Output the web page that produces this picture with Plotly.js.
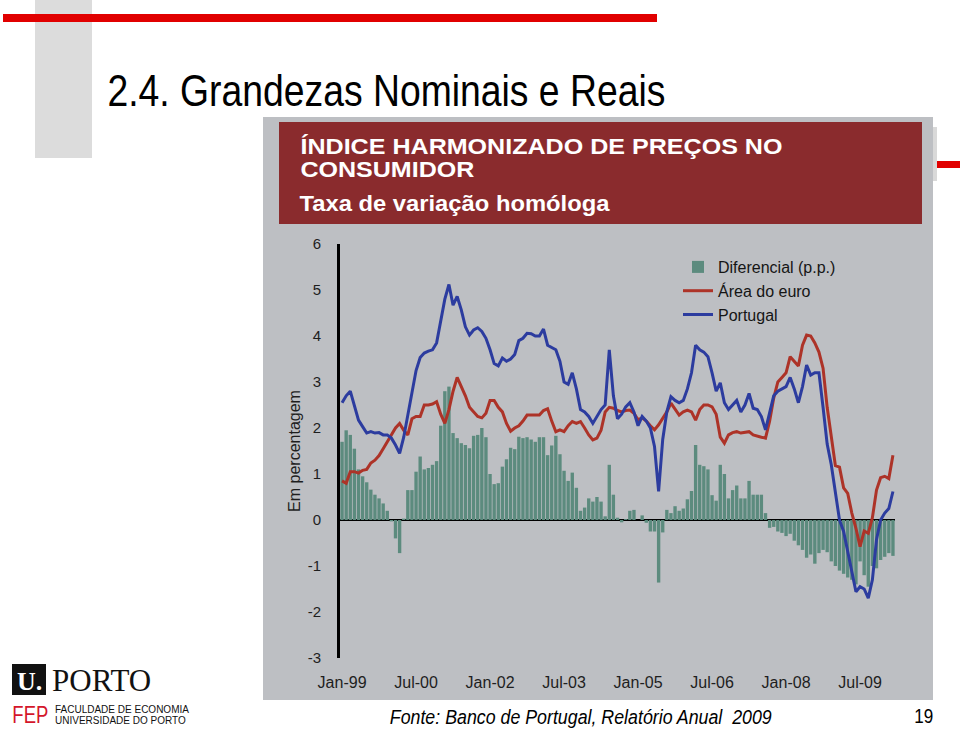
<!DOCTYPE html>
<html>
<head>
<meta charset="utf-8">
<script src="https://cdn.plot.ly/plotly-3.0.1.min.js"></script>
<style>
  html, body { margin: 0; padding: 0; background: #ffffff; }
  #chart { width: 960px; height: 729px; }
</style>
</head>
<body>
<div id="chart"></div>
<script>
// ---- Data (monthly, Jan-1999 .. Mar-2010) ----
const startYear = 1999;
const monthCount = 135;
const monthNames = ['Jan','Feb','Mar','Apr','May','Jun','Jul','Aug','Sep','Oct','Nov','Dec'];

const tickLabels = ['Jan-99','Jul-00','Jan-02','Jul-03','Jan-05','Jul-06','Jan-08','Jul-09'];
const yTicks = [-3,-2,-1,0,1,2,3,4,5,6];
const yTickText = ['-3','-2','-1','0','1','2','3','4','5','6'];

const portugal = [
  2.55,2.7,2.8,2.5,2.17,2.03,1.89,1.92,1.89,1.9,1.85,1.85,
  1.78,1.63,1.45,1.8,2.3,2.8,3.25,3.53,3.63,3.67,3.7,3.85,
  4.35,4.8,5.12,4.67,4.86,4.57,4.2,4.02,4.13,4.18,4.1,3.95,
  3.7,3.4,3.35,3.52,3.45,3.5,3.6,3.9,3.95,4.06,4.05,4.0,
  4.0,4.15,3.8,3.75,3.7,3.45,3.0,2.95,3.2,2.85,2.4,2.35,
  2.25,2.1,2.25,2.4,2.5,3.7,2.7,2.2,2.3,2.46,2.55,2.35,
  2.05,2.25,2.15,2.0,1.6,0.62,1.75,2.35,2.68,2.6,2.55,2.6,
  2.85,3.2,3.8,3.7,3.65,3.55,3.2,2.8,2.98,2.55,2.4,2.5,
  2.6,2.35,2.5,2.75,2.43,2.4,2.25,1.96,2.3,2.7,2.8,2.85,
  2.9,3.1,2.85,2.55,2.9,3.37,3.15,3.2,3.2,2.45,1.65,1.2,
  0.58,0.0,-0.25,-0.7,-1.15,-1.56,-1.45,-1.5,-1.7,-1.3,-0.43,0.0,
  0.15,0.25,0.62
];

const areaEuro = [
  0.85,0.8,1.05,1.05,1.02,1.08,1.1,1.24,1.3,1.4,1.55,1.7,
  1.85,2.0,2.1,1.95,1.85,2.2,2.25,2.25,2.5,2.5,2.52,2.57,
  2.3,2.1,2.4,2.8,3.1,2.9,2.7,2.45,2.35,2.25,2.22,2.32,
  2.6,2.6,2.45,2.35,2.1,1.93,2.0,2.05,2.15,2.28,2.28,2.28,
  2.28,2.38,2.42,2.15,1.92,1.96,1.92,2.05,2.14,2.1,2.14,2.0,
  1.85,1.74,1.78,1.95,2.35,2.45,2.43,2.38,2.35,2.38,2.39,2.32,
  2.18,2.22,2.15,2.05,1.96,2.07,2.2,2.35,2.54,2.4,2.28,2.35,
  2.39,2.35,2.17,2.4,2.5,2.5,2.46,2.3,1.8,1.67,1.85,1.9,
  1.92,1.89,1.9,1.92,1.85,1.82,1.8,1.78,2.15,2.65,3.0,3.1,
  3.2,3.55,3.45,3.35,3.8,4.02,4.0,3.85,3.65,3.3,2.45,1.8,
  1.18,1.15,0.7,0.58,0.15,-0.18,-0.58,-0.24,-0.29,0.05,0.65,0.92,
  0.95,0.9,1.41
];

const diferencial = [
  1.7,1.95,1.85,1.55,1.1,0.95,0.82,0.66,0.55,0.47,0.36,0.2,
  -0.03,-0.4,-0.72,0.03,0.65,0.65,1.05,1.38,1.1,1.13,1.2,1.28,
  2.05,2.8,2.9,1.89,1.78,1.67,1.63,1.56,1.83,1.85,2.0,1.8,
  1.0,0.78,0.8,1.16,1.32,1.57,1.54,1.81,1.78,1.8,1.75,1.7,
  1.8,1.8,1.41,1.62,1.83,1.43,1.07,0.85,1.03,0.7,0.2,0.27,
  0.47,0.4,0.5,0.4,0.08,1.2,0.55,0.05,-0.05,0.02,0.2,0.22,
  0.0,0.1,-0.06,-0.25,-0.25,-1.36,-0.27,0.22,0.15,0.3,0.2,0.25,
  0.45,0.63,1.63,1.2,1.17,1.1,0.54,0.42,1.2,1.0,0.47,0.65,
  0.75,0.47,0.47,0.85,0.55,0.55,0.55,0.15,-0.17,-0.15,-0.25,-0.28,
  -0.35,-0.3,-0.45,-0.55,-0.65,-0.82,-0.75,-0.95,-0.72,-0.65,-0.7,-0.9,
  -1.0,-1.1,-1.17,-1.25,-1.3,-1.4,-0.9,-1.2,-1.45,-1.0,-1.05,-0.87,
  -0.8,-0.72,-0.78
];

// month category labels (Jan-99, Feb-99, ...)
const months = [];
for (let i = 0; i < monthCount; i++) {
  const y = startYear + Math.floor(i / 12);
  months.push(monthNames[i % 12] + '-' + String(y % 100).padStart(2, '0'));
}

// ---- Layout helpers (pixel -> paper) ----
const W = 960, H = 729;
const px = x => x / W;
const py = y => 1 - y / H;

const BG_GRAY = '#bdbfc3';
const HEADER_RED = '#8a2b2d';
const BAR_COLOR = '#5c8b7e';
const EURO_RED = '#ad3328';
const PT_BLUE = '#2c3c9f';
const SANS = 'Liberation Sans, Arial, sans-serif';

const traces = [
  {
    type: 'bar', name: 'Diferencial (p.p.)', x: months, y: diferencial,
    marker: { color: BAR_COLOR, line: { width: 0 } }
  },
  {
    type: 'scatter', mode: 'lines', name: 'Área do euro', x: months, y: areaEuro,
    line: { color: EURO_RED, width: 3 }
  },
  {
    type: 'scatter', mode: 'lines', name: 'Portugal', x: months, y: portugal,
    line: { color: PT_BLUE, width: 3 }
  }
];

const rect = (x0, y0, x1, y1, color) => ({
  type: 'rect', xref: 'paper', yref: 'paper', layer: 'below',
  x0: px(x0), x1: px(x1), y0: py(y1), y1: py(y0),
  fillcolor: color, line: { width: 0 }
});

const note = (text, x, y, font, opts) => Object.assign({
  text: text, xref: 'paper', yref: 'paper', x: px(x), y: py(y),
  xanchor: 'center', yanchor: 'middle', showarrow: false, font: font
}, opts || {});

const headerFont = { family: SANS, size: 22, color: '#ffffff', weight: 'bold' };

const layout = {
  width: W, height: H,
  margin: { l: 0, r: 0, t: 0, b: 0 },
  paper_bgcolor: '#ffffff',
  plot_bgcolor: 'rgba(0,0,0,0)',
  bargap: 0.18,
  showlegend: true,
  legend: {
    x: px(678), y: py(250), xanchor: 'left', yanchor: 'top',
    bgcolor: 'rgba(0,0,0,0)', borderwidth: 0,
    font: { family: SANS, size: 16, color: '#151515' },
    tracegroupgap: 0, itemwidth: 30
  },
  xaxis: {
    type: 'category',
    domain: [px(340), px(895)],
    range: [-0.5, monthCount - 0.5],
    tickmode: 'array', tickvals: tickLabels, ticktext: tickLabels,
    ticks: '', showgrid: false, zeroline: false, showline: false,
    tickfont: { family: SANS, size: 16, color: '#1e1e1e' },
    ticklabelstandoff: 13,
    fixedrange: true
  },
  yaxis: {
    domain: [py(658), py(244)],
    range: [-3, 6],
    tickmode: 'array', tickvals: yTicks, ticktext: yTickText,
    ticks: '', showgrid: false,
    zeroline: true, zerolinecolor: '#000000', zerolinewidth: 1.5,
    showline: true, linecolor: '#000000', linewidth: 3,
    tickfont: { family: SANS, size: 15, color: '#1e1e1e' },
    ticklabelstandoff: 13,
    title: { text: 'Em percentagem', standoff: 4,
             font: { family: SANS, size: 16, color: '#1e1e1e' } },
    fixedrange: true
  },
  shapes: [
    rect(35, 0, 92, 158, '#dcdcdc'),          // left grey band
    rect(3, 14, 657, 22, '#e10000'),          // top red line
    rect(922, 127, 937, 181, '#d9d9d9'),      // small grey tab on the right
    rect(937, 161, 960, 168, '#e10000'),      // small red mark on the right
    rect(263, 117, 933, 700, BG_GRAY),        // chart picture background
    rect(279, 122, 922, 224, HEADER_RED),     // red header of the chart
    rect(12, 664, 46, 695, '#111111')         // U.PORTO logo square
  ],
  annotations: [
    note('2.4. Grandezas Nominais e Reais', 386, 90, { family: SANS, size: 45, color: '#000' }),
    note('ÍNDICE HARMONIZADO DE PREÇOS NO', 541, 146, headerFont),
    note('CONSUMIDOR', 387, 170, headerFont),
    note('Taxa de variação homóloga', 455, 203, headerFont),
    note('<i>Fonte: Banco de Portugal, Relatório Anual  2009</i>', 581, 717, { family: SANS, size: 20, color: '#000' }),
    note('19', 923, 715, { family: SANS, size: 21, color: '#000' }),
    note('<b>U.</b>', 29, 681, { family: 'Liberation Serif, serif', size: 26, color: '#ffffff' }),
    note('PORTO', 50, 680, { family: 'Liberation Serif, serif', size: 31, color: '#111' }, { xanchor: 'left' }),
    note('FEP', 30, 715, { family: SANS, size: 23, color: '#d4162b' }),
    note('FACULDADE DE ECONOMIA', 53, 709, { family: SANS, size: 10, color: '#111' }, { xanchor: 'left' }),
    note('UNIVERSIDADE DO PORTO', 53, 720, { family: SANS, size: 10, color: '#111' }, { xanchor: 'left' })
  ]
};

// narrow / wide typefaces of the slide: fit texts to the reference widths
const fitWidths = {
  '2.4. Grandezas Nominais e Reais': 558,
  'Fonte: Banco de Portugal, Relatório Anual  2009': 382,
  '19': 19,
  'FEP': 36,
  'ÍNDICE HARMONIZADO DE PREÇOS NO': 482,
  'CONSUMIDOR': 174,
  'Taxa de variação homóloga': 310
};

Plotly.newPlot('chart', traces, layout, { displayModeBar: false, staticPlot: true }).then(gd => {
  gd.querySelectorAll('text.annotation-text').forEach(t => {
    const key = t.textContent.replace(/\u00a0/g, ' ');
    if (fitWidths[key]) {
      t.setAttribute('textLength', fitWidths[key]);
      t.setAttribute('lengthAdjust', 'spacingAndGlyphs');
    }
  });
});
</script>
</body>
</html>
